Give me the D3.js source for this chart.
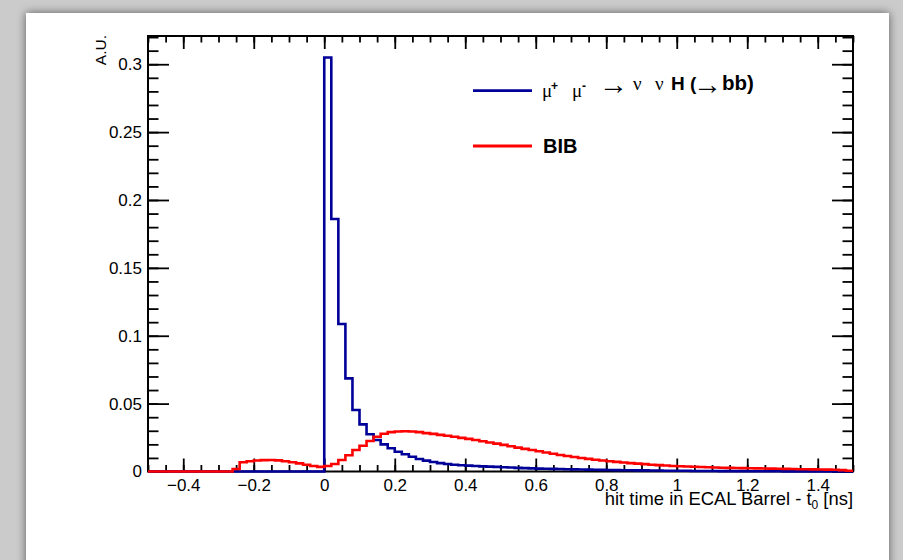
<!DOCTYPE html>
<html>
<head>
<meta charset="utf-8">
<script src="https://cdn.jsdelivr.net/npm/d3@7"></script>
<style>
  body { margin: 0; background: #cfcfcf; }
  text { font-family: "Liberation Sans", Arial, sans-serif; }
</style>
</head>
<body>
<div id="chart"></div>
<script>
// histogram binning (100 bins of 0.02 ns from -0.5 to 1.5)
const binStart = -0.5;
const binWidth = 0.02;

// mu+ mu- -> nu nu H(->bb), blue
const signal = [
  0, 0, 0, 0, 0, 0, 0, 0, 0, 0, 0, 0, 0, 0, 0, 0, 0, 0, 0, 0, 0, 0, 0, 0, 0,
  0.305, 0.186, 0.1086, 0.0686, 0.0453, 0.0347, 0.0274, 0.0232, 0.0200, 0.0171,
  0.0146, 0.0127, 0.0109, 0.0092, 0.0080, 0.0070, 0.0062, 0.0055, 0.0050, 0.0046,
  0.0043, 0.0041, 0.0038, 0.0036, 0.0034, 0.0031, 0.0029, 0.0027, 0.0025, 0.0023,
  0.0021, 0.0020, 0.0019, 0.0018, 0.0017, 0.0016, 0.0015, 0.0014, 0.0013, 0.0012,
  0.0011, 0.0010, 0.0009, 0.0009, 0.0008, 0.0008, 0.0007, 0.0007, 0.0006, 0.0006,
  0.0005, 0.0005, 0.0004, 0.0004, 0.0004, 0.0004, 0.0003, 0.0003, 0.0003, 0.0003,
  0.0002, 0.0002, 0.0002, 0.0002, 0.0002, 0.0001, 0.0001, 0.0001, 0.0001, 0.0001,
  0.0001, 0.0001, 0.0001, 0.0001, 0.0001
];

// BIB, red
const bib = [
  0, 0, 0, 0, 0, 0, 0, 0, 0, 0, 0, 0,
  0.0018, 0.0068, 0.0076, 0.0081, 0.0084, 0.0085, 0.0082, 0.0076, 0.0068, 0.0060, 0.0050, 0.0041, 0.0034,
  0.0040, 0.0055, 0.0085, 0.0120, 0.0158, 0.0190, 0.0225, 0.0256, 0.0278, 0.0290,
  0.0295, 0.0296, 0.0295, 0.0290, 0.0283, 0.0277, 0.0270, 0.0263, 0.0256, 0.0248,
  0.0240, 0.0232, 0.0223, 0.0214, 0.0205, 0.0196, 0.0186, 0.0176, 0.0167, 0.0158,
  0.0149, 0.0140, 0.0131, 0.0122, 0.0114, 0.0107, 0.0100, 0.0093, 0.0087, 0.0081,
  0.0076, 0.0071, 0.0066, 0.0062, 0.0058, 0.0054, 0.0050, 0.0047, 0.0044, 0.0041,
  0.0039, 0.0037, 0.0035, 0.0033, 0.0031, 0.0030, 0.0028, 0.0027, 0.0026, 0.0025,
  0.0024, 0.0023, 0.0022, 0.0021, 0.0020, 0.0019, 0.0018, 0.0017, 0.0017, 0.0016,
  0.0015, 0.0014, 0.0013, 0.0010, 0.0006
];

const xTicks = [-0.4, -0.2, 0, 0.2, 0.4, 0.6, 0.8, 1, 1.2, 1.4];
const yTicks = [0, 0.05, 0.1, 0.15, 0.2, 0.25, 0.3];

const width = 903;
const height = 560;
const frame = {left: 148, right: 853, top: 36, bottom: 471.5};

const svg = d3.create('svg')
  .attr('width', width)
  .attr('height', height);

// drop shadow for the canvas card
const defs = svg.append('defs');
const shadow = defs.append('filter').attr('id', 'shadow')
  .attr('x', '-5%').attr('y', '-5%').attr('width', '110%').attr('height', '110%');
shadow.append('feDropShadow')
  .attr('dx', 0).attr('dy', 0).attr('stdDeviation', 5)
  .attr('flood-color', '#000').attr('flood-opacity', 0.55);

svg.append('rect').attr('width', width).attr('height', height).attr('fill', '#cbcbcb');
svg.append('rect')
  .attr('x', 26).attr('y', 13).attr('width', 863).attr('height', 600)
  .attr('fill', '#fff').attr('filter', 'url(#shadow)');

// scales
const x = d3.scaleLinear().domain([-0.5, 1.5]).range([frame.left, frame.right]);
const y = d3.scaleLinear().domain([0, 0.3208]).range([frame.bottom, frame.top]);

const xMinor = d3.range(-0.5, 1.5001, 0.05).map(v => +v.toFixed(2));
const yMinor = d3.range(0, 0.3201, 0.01).map(v => +v.toFixed(2));

function styleAxis(g) {
  g.select('.domain').remove();
  g.selectAll('line').attr('stroke', '#000').attr('stroke-width', 1.8);
  g.selectAll('text').attr('fill', '#000').attr('font-size', '17px')
    .style('font-family', '"Liberation Sans", Arial, sans-serif');
}

// bottom axis
svg.append('g')
  .attr('transform', `translate(0, ${frame.bottom})`)
  .call(d3.axisBottom(x).tickValues(xMinor).tickSizeInner(-6.5).tickSizeOuter(0).tickFormat(''))
  .call(styleAxis);
svg.append('g')
  .attr('transform', `translate(0, ${frame.bottom})`)
  .call(d3.axisBottom(x).tickValues(xTicks).tickSizeInner(-13).tickSizeOuter(0).tickPadding(7)
    .tickFormat(d => d < 0 ? '\u2212' + Math.abs(d) : d3.format('')(d)))
  .call(styleAxis);

// top axis (ticks only)
svg.append('g')
  .attr('transform', `translate(0, ${frame.top})`)
  .call(d3.axisTop(x).tickValues(xMinor).tickSizeInner(-6.5).tickSizeOuter(0).tickFormat(''))
  .call(styleAxis);
svg.append('g')
  .attr('transform', `translate(0, ${frame.top})`)
  .call(d3.axisTop(x).tickValues(xTicks).tickSizeInner(-13).tickSizeOuter(0).tickFormat(''))
  .call(styleAxis);

// left axis
svg.append('g')
  .attr('transform', `translate(${frame.left}, 0)`)
  .call(d3.axisLeft(y).tickValues(yMinor).tickSizeInner(-10.5).tickSizeOuter(0).tickFormat(''))
  .call(styleAxis);
svg.append('g')
  .attr('transform', `translate(${frame.left}, 0)`)
  .call(d3.axisLeft(y).tickValues(yTicks).tickSizeInner(-21).tickSizeOuter(0).tickPadding(6)
    .tickFormat(d3.format('')))
  .call(styleAxis);

// right axis (ticks only)
svg.append('g')
  .attr('transform', `translate(${frame.right}, 0)`)
  .call(d3.axisRight(y).tickValues(yMinor).tickSizeInner(-10.5).tickSizeOuter(0).tickFormat(''))
  .call(styleAxis);
svg.append('g')
  .attr('transform', `translate(${frame.right}, 0)`)
  .call(d3.axisRight(y).tickValues(yTicks).tickSizeInner(-21).tickSizeOuter(0).tickFormat(''))
  .call(styleAxis);

// frame
svg.append('rect')
  .attr('x', frame.left).attr('y', frame.top)
  .attr('width', frame.right - frame.left).attr('height', frame.bottom - frame.top)
  .attr('fill', 'none').attr('stroke', '#000').attr('stroke-width', 2);

// histograms as step outlines
const stepLine = d3.line()
  .x(d => x(d[0]))
  .y(d => y(d[1]))
  .curve(d3.curveStepAfter);

function histPoints(values) {
  const pts = values.map((v, i) => [binStart + i * binWidth, v]);
  pts.push([binStart + values.length * binWidth, values[values.length - 1]]);
  return pts;
}

svg.append('path')
  .attr('d', stepLine(histPoints(signal)))
  .attr('fill', 'none').attr('stroke', '#000099').attr('stroke-width', 2.6);

svg.append('path')
  .attr('d', stepLine(histPoints(bib)))
  .attr('fill', 'none').attr('stroke', '#ff0000').attr('stroke-width', 2.6);

// axis titles
const xTitle = svg.append('text')
  .attr('x', frame.right).attr('y', 505)
  .attr('text-anchor', 'end').attr('font-size', '18.4px').attr('fill', '#000');
xTitle.append('tspan').text('hit time in ECAL Barrel - t');
xTitle.append('tspan').attr('font-size', '12px').attr('dy', 4).text('0');
xTitle.append('tspan').attr('dy', -4).text(' [ns]');

svg.append('text')
  .attr('transform', `translate(106, ${frame.top - 1}) rotate(-90)`)
  .attr('text-anchor', 'end').attr('font-size', '15.5px').attr('fill', '#000')
  .text('A.U.');

// legend
const legend = svg.append('g');
legend.append('line')
  .attr('x1', 473).attr('x2', 532).attr('y1', 90.7).attr('y2', 90.7)
  .attr('stroke', '#000099').attr('stroke-width', 2.8);
legend.append('line')
  .attr('x1', 473).attr('x2', 532).attr('y1', 146).attr('y2', 146)
  .attr('stroke', '#ff0000').attr('stroke-width', 2.8);

const serif = '"Liberation Serif", "DejaVu Serif", serif';
const entry = legend.append('text').attr('y', 97.3).attr('font-size', '19px').attr('fill', '#000');
entry.append('tspan').attr('x', 542).style('font-family', serif).text('\u03bc');
entry.append('tspan').attr('x', 551).attr('dy', -7).attr('font-size', '12px').attr('font-weight', 'bold').text('+');
entry.append('tspan').attr('x', 572).attr('dy', 7).style('font-family', serif).text('\u03bc');
entry.append('tspan').attr('x', 582).attr('dy', -7).attr('font-size', '12px').attr('font-weight', 'bold').text('-');
entry.append('tspan').attr('x', 599).attr('dy', 4).attr('font-size', '29px').style('font-family', serif).text('\u2192');
entry.append('tspan').attr('x', 633).attr('dy', -4).style('font-family', serif).text('\u03bd');
entry.append('tspan').attr('x', 655).style('font-family', serif).text('\u03bd');
entry.append('tspan').attr('x', 671).attr('font-weight', 'bold').text('H (');
entry.append('tspan').attr('x', 693).attr('dy', 4).attr('font-size', '29px').style('font-family', serif).text('\u2192');
entry.append('tspan').attr('x', 722).attr('dy', -4).attr('font-size', '20.5px').attr('font-weight', 'bold').text('bb)');

legend.append('text')
  .attr('x', 543).attr('y', 152.7)
  .attr('font-size', '20px').attr('font-weight', 'bold').attr('fill', '#000')
  .text('BIB');

document.getElementById('chart').appendChild(svg.node());
</script>
</body>
</html>
